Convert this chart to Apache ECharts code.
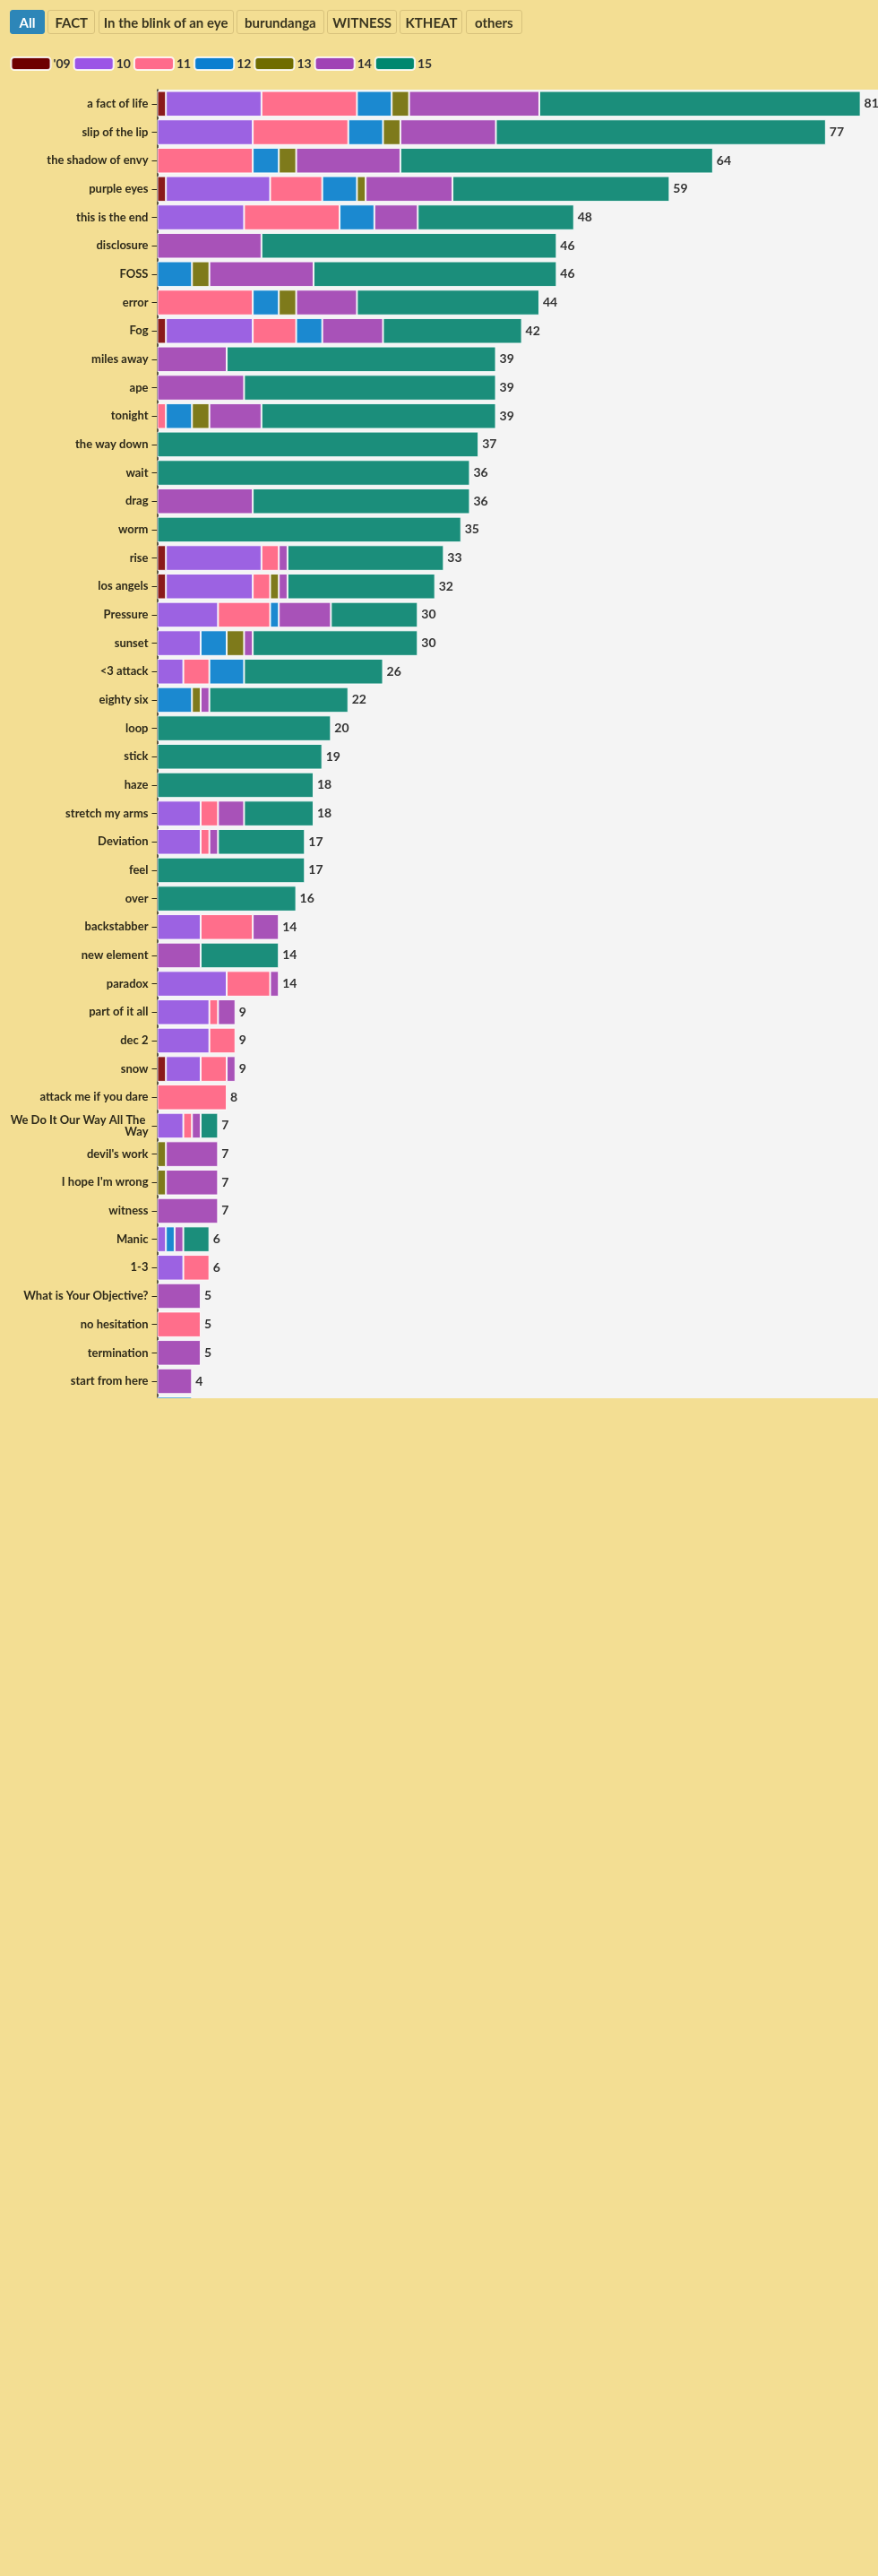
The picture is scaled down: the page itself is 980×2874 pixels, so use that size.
<!DOCTYPE html>
<html>
<head>
<meta charset="utf-8">
<script src="https://cdn.jsdelivr.net/npm/echarts@6/dist/echarts.min.js"></script>
<style>
  html, body { margin: 0; padding: 0; background: #f3de93; width: 980px; height: 2874px; overflow: hidden; }
  body { font-family: Lato, sans-serif; }
  #buttons { position: absolute; left: 11px; top: 11px; display: flex; gap: 3.3px; }
  #buttons button {
    font-family: Lato, sans-serif; font-weight: bold; font-size: 15px; color: #3a3520;
    background: #f3de93; border: 1px solid #d8c27c; border-radius: 3px;
    height: 27px; padding: 0; margin: 0; cursor: pointer; text-align: center; white-space: nowrap;
  }
  #buttons button.active { background: #2d86b8; color: #fff; border-color: #2d86b8; }
  #wrap { position: absolute; left: 0; top: 0; width: 980px; height: 1560px; overflow: hidden; }
  #chart { width: 980px; height: 1620px; }
</style>
</head>
<body>
<div id="wrap"><div id="chart"></div></div>
<div id="buttons">
  <button class="active" style="width:39px">All</button>
  <button style="width:53px">FACT</button>
  <button style="width:151px">In the blink of an eye</button>
  <button style="width:98px">burundanga</button>
  <button style="width:78px">WITNESS</button>
  <button style="width:70px">KTHEAT</button>
  <button style="width:63px">others</button>
</div>
<script>
// ---- data ----
const categories = [
  "a fact of life","slip of the lip","the shadow of envy","purple eyes","this is the end",
  "disclosure","FOSS","error","Fog","miles away",
  "ape","tonight","the way down","wait","drag",
  "worm","rise","los angels","Pressure","sunset",
  "<3 attack","eighty six","loop","stick","haze",
  "stretch my arms","Deviation","feel","over","backstabber",
  "new element","paradox","part of it all","dec 2","snow",
  "attack me if you dare","We Do It Our Way All The Way","devil's work","I hope I'm wrong","witness",
  "Manic","1-3","What is Your Objective?","no hesitation","termination",
  "start from here","…"
];
const seriesNames = ["'09","10","11","12","13","14","15"];
const s09 = [1,0,0,1,0, 0,0,0,1,0, 0,0,0,0,0, 0,1,1,0,0, 0,0,0,0,0, 0,0,0,0,0, 0,0,0,0,1, 0,0,0,0,0, 0,0,0,0,0, 0,0];
const s10 = [11,11,0,12,10, 0,0,0,10,0, 0,0,0,0,0, 0,11,10,7,5, 3,0,0,0,0, 5,5,0,0,5, 0,8,6,6,4, 0,3,0,0,0, 1,3,0,0,0, 0,0];
const s11 = [11,11,11,6,11, 0,0,11,5,0, 0,1,0,0,0, 0,2,2,6,0, 3,0,0,0,0, 2,1,0,0,6, 0,5,1,3,3, 8,1,0,0,0, 0,3,0,5,0, 0,0];
const s12 = [4,4,3,4,4, 0,4,3,3,0, 0,3,0,0,0, 0,0,0,1,3, 4,4,0,0,0, 0,0,0,0,0, 0,0,0,0,0, 0,0,0,0,0, 1,0,0,0,0, 0,4];
const s13 = [2,2,2,1,0, 0,2,2,0,0, 0,2,0,0,0, 0,0,1,0,2, 0,1,0,0,0, 0,0,0,0,0, 0,0,0,0,0, 0,0,1,1,0, 0,0,0,0,0, 0,0];
const s14 = [15,11,12,10,5, 12,12,7,7,8, 10,6,0,0,11, 0,1,1,6,1, 0,1,0,0,0, 3,1,0,0,3, 5,1,2,0,1, 0,1,6,6,7, 1,0,5,0,5, 4,0];
const s15 = [37,38,36,25,18, 34,28,21,16,31, 29,27,37,36,25, 35,18,17,10,19, 16,16,20,19,18, 8,10,17,16,0, 9,0,0,0,0, 0,2,0,0,0, 3,0,0,0,0, 0,0];
const seriesValues = [s09, s10, s11, s12, s13, s14, s15];
const barColors = ["#8a1b1b","#9c62e2","#ff6e8b","#1b89d0","#7e7a1b","#a852b8","#1b8e7b"];
const legendColors = ["#6e0000","#9b55e6","#ff6b8b","#0a7fd0","#6f6c00","#a043b5","#00876f"];

// ---- build ----
const totals = categories.map((_, i) => seriesValues.reduce((a, s) => a + s[i], 0));
const FONT = "Lato, sans-serif";
const series = seriesNames.map((name, k) => ({
  name, type: 'bar', stack: 'all',
  barCategoryGap: '10%',
  data: seriesValues[k].map(v => v === 0 ? null : v),
  itemStyle: { color: barColors[k], borderColor: 'rgba(255,255,255,0.85)', borderWidth: 1 },
  emphasis: { disabled: true },
  silent: true
}));
series.push({
  name: 'total', type: 'bar', stack: 'all',
  data: categories.map(() => 0),
  itemStyle: { color: 'transparent', borderWidth: 0 },
  label: {
    show: true, position: 'right', distance: 4,
    formatter: p => totals[p.dataIndex],
    fontFamily: FONT, fontWeight: 'bold', fontSize: 14, color: '#333'
  },
  silent: true
});

const chart = echarts.init(document.getElementById('chart'), null, { renderer: 'canvas' });
chart.setOption({
  animation: false,
  backgroundColor: 'transparent',
  legend: {
    left: 11.5, top: 63, padding: 0,
    itemWidth: 44, itemHeight: 14, itemGap: 3,
    icon: 'roundRect',
    data: seriesNames.map((n, k) => ({ name: n, itemStyle: { color: legendColors[k] } })),
    textStyle: { fontFamily: FONT, fontWeight: 'bold', fontSize: 14, color: '#333', padding: [0, 0, 0, -2] },
    selectedMode: false
  },
  grid: {
    left: 175.5, right: 0, top: 100, height: 31.67 * categories.length,
    show: true, backgroundColor: '#f4f4f4', borderWidth: 0, containLabel: false
  },
  xAxis: {
    type: 'value', min: 0, max: 83,
    axisLabel: { show: false }, axisLine: { show: false }, axisTick: { show: false },
    splitLine: { show: false }
  },
  yAxis: {
    type: 'category', data: categories, inverse: true,
    axisLine: { show: true, lineStyle: { color: '#2a2616', width: 1.5 } },
    axisTick: { show: true, length: 6, alignWithLabel: true, lineStyle: { color: '#2a2616' } },
    axisLabel: {
      fontFamily: FONT, fontWeight: 'bold', fontSize: 13, color: '#2e2a1a', margin: 10,
      width: 160, overflow: 'break', lineHeight: 13, interval: 0, align: 'right'
    },
    splitLine: { show: false }
  },
  series
});
</script>
</body>
</html>
